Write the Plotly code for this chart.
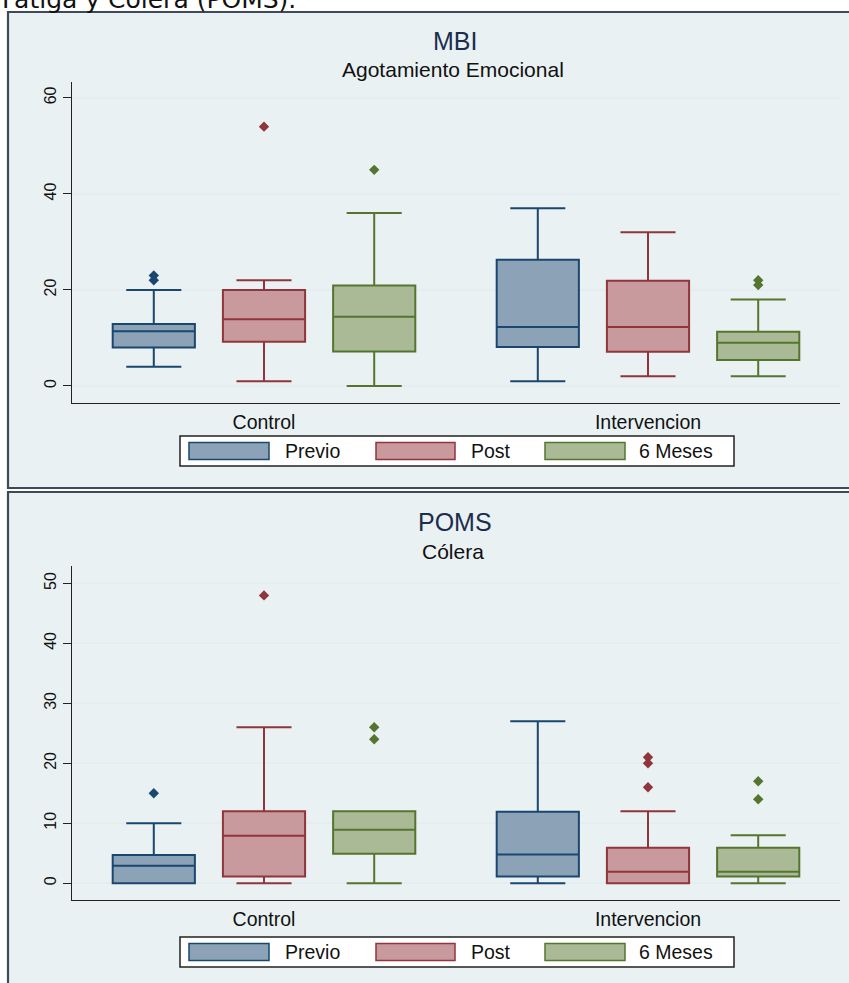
import plotly.graph_objects as go

W, H = 849, 983

groups = ["Control", "Intervencion"]
series = ["Previo", "Post", "6 Meses"]

# Box statistics; rows follow `series`, columns follow `groups`
# MBI - Agotamiento Emocional
mbi_lower = [[4, 1], [1, 2], [0, 2]]
mbi_q1 = [[8, 8.1], [9.2, 7.1], [7.2, 5.4]]
mbi_median = [[11.4, 12.3], [13.9, 12.3], [14.4, 9.0]]
mbi_q3 = [[12.9, 26.3], [20, 21.9], [20.9, 11.3]]
mbi_upper = [[20, 37], [22, 32], [36, 18]]
mbi_outliers = [[[22, 23], []], [[54], []], [[45], [21, 22]]]

# POMS - Cólera
poms_lower = [[0, 0], [0, 0], [0, 0]]
poms_q1 = [[0, 1.1], [1.1, 0], [4.9, 1.1]]
poms_median = [[2.9, 4.8], [7.9, 1.9], [8.9, 1.9]]
poms_q3 = [[4.7, 11.9], [12, 5.9], [12, 5.9]]
poms_upper = [[10, 27], [26, 12], [12, 8]]
poms_outliers = [[[15], []], [[48], [16, 20, 21]], [[24, 26], [14, 17]]]

mbi_ticks = [0, 20, 40, 60]
poms_ticks = [0, 10, 20, 30, 40, 50]

line_colors = ["#1a476f", "#90353b", "#55752f"]
fill_colors = ["#8ca3b7", "#c89a9d", "#aaba97"]

PANEL_BG = "#eaf1f3"
GRID = "#e6edf0"
BORDER = "#3d4a59"
AXIS = "#222222"
FONT = "Liberation Sans, Arial, sans-serif"


def px(x):
    return x / W


def py(y):
    return 1 - y / H


fig = go.Figure()

offset = 0.287
box_w = 0.214

panels = [
    ("x", "y", mbi_lower, mbi_q1, mbi_median, mbi_q3, mbi_upper, mbi_outliers),
    ("x2", "y2", poms_lower, poms_q1, poms_median, poms_q3, poms_upper, poms_outliers),
]

for xa, ya, lo, q1, med, q3, up, outl in panels:
    for s, name in enumerate(series):
        xs = [g + (s - 1) * offset for g in range(len(groups))]
        fig.add_trace(go.Box(
            name=name, x=xs, q1=q1[s], median=med[s], q3=q3[s],
            lowerfence=lo[s], upperfence=up[s],
            width=box_w, whiskerwidth=0.67,
            fillcolor=fill_colors[s],
            line=dict(color=line_colors[s], width=2),
            boxpoints=False, showlegend=False,
            xaxis=xa, yaxis=ya,
        ))
        ox, oy = [], []
        for g in range(len(groups)):
            for v in outl[s][g]:
                ox.append(xs[g])
                oy.append(v)
        if ox:
            fig.add_trace(go.Scatter(
                x=ox, y=oy, mode="markers", name=name,
                marker=dict(symbol="diamond", size=8, color=line_colors[s]),
                showlegend=False, xaxis=xa, yaxis=ya,
            ))

# panel frames
shapes = []
for y0, y1 in [(12, 488), (492, 992)]:
    shapes.append(dict(type="rect", xref="paper", yref="paper",
                       x0=px(8), x1=px(855), y0=py(y0), y1=py(y1),
                       fillcolor=PANEL_BG, line=dict(color=BORDER, width=2.2),
                       layer="below"))

annotations = []

# legends drawn as keys inside a framed strip
key_x = [(189, 269), (376, 455), (545, 625)]
label_x = [283, 469, 637]
for top, bot in [(436, 466), (937, 967)]:
    shapes.append(dict(type="rect", xref="paper", yref="paper",
                       x0=px(180), x1=px(734), y0=py(top), y1=py(bot),
                       fillcolor="white", line=dict(color=AXIS, width=1.5)))
    mid = (top + bot) / 2
    for s, name in enumerate(series):
        shapes.append(dict(type="rect", xref="paper", yref="paper",
                           x0=px(key_x[s][0]), x1=px(key_x[s][1]),
                           y0=py(mid - 8.5), y1=py(mid + 8.5),
                           fillcolor=fill_colors[s],
                           line=dict(color=line_colors[s], width=1.5)))
        annotations.append(dict(xref="paper", yref="paper", x=px(label_x[s]),
                                y=py(mid), xanchor="left", yanchor="middle",
                                text=name, showarrow=False,
                                font=dict(family=FONT, size=19.5, color="#111")))

# titles
for title, sub, ty, sy in [("MBI", "Agotamiento Emocional", 41, 70),
                           ("POMS", "Cólera", 522, 552)]:
    annotations.append(dict(xref="paper", yref="paper", x=px(455), y=py(ty),
                            xanchor="center", yanchor="middle", text=title,
                            showarrow=False,
                            font=dict(family=FONT, size=25, color="#1c2d4f")))
    annotations.append(dict(xref="paper", yref="paper", x=px(453), y=py(sy - 1),
                            xanchor="center", yanchor="middle", text=sub,
                            showarrow=False,
                            font=dict(family=FONT, size=21, color="#111")))

# running heading above the figure
annotations.append(dict(xref="paper", yref="paper", x=0, y=py(-1),
                        xanchor="left", yanchor="middle",
                        text="Fatiga y Cólera (POMS).", showarrow=False,
                        font=dict(family="DejaVu Sans", size=25, color="#111")))

xcommon = dict(
    domain=[px(72), px(840)], range=[-0.5, 1.5],
    tickmode="array", tickvals=list(range(len(groups))), ticktext=groups,
    showline=True, linecolor=AXIS, linewidth=1.3,
    ticks="outside", ticklen=1, tickcolor="rgba(0,0,0,0)",
    showgrid=False, zeroline=False,
    tickfont=dict(family=FONT, size=19.5, color="#111"),
)
ycommon = dict(
    tickmode="array", tickangle=-90,
    showline=True, linecolor=AXIS, linewidth=1.3,
    ticks="outside", ticklen=8, tickcolor=AXIS, tickwidth=1.3,
    showgrid=True, gridcolor=GRID, gridwidth=1.5, zeroline=False,
    tickfont=dict(family=FONT, size=16, color="#111"),
)

fig.update_layout(
    width=W, height=H,
    margin=dict(l=0, r=0, t=0, b=0),
    paper_bgcolor="white", plot_bgcolor="white",
    showlegend=False,
    xaxis=dict(**xcommon, anchor="y"),
    yaxis=dict(**ycommon, anchor="x", domain=[py(403), py(82)],
               range=[-3.55, 63.3], tickvals=mbi_ticks),
    xaxis2=dict(**xcommon, anchor="y2"),
    yaxis2=dict(**ycommon, anchor="x2", domain=[py(900), py(566)],
                range=[-2.8, 52.9], tickvals=poms_ticks),
    shapes=shapes,
    annotations=annotations,
)

fig.write_html("out.html")
